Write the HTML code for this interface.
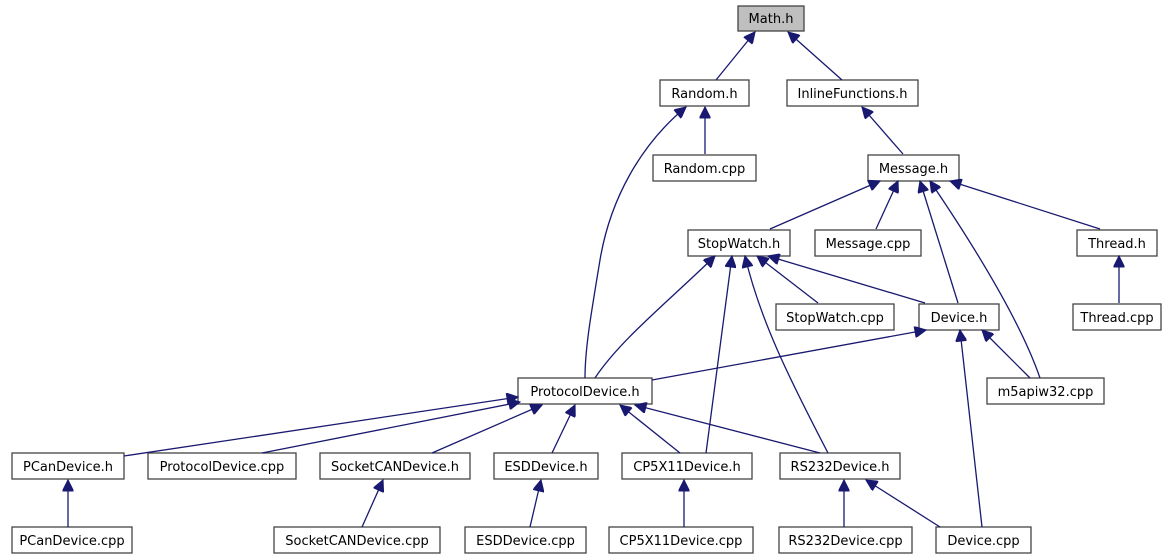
<!DOCTYPE html>
<html><head><meta charset="utf-8"><style>
html,body{margin:0;padding:0;background:#fff;}
svg{display:block}
text{font-family:"DejaVu Sans","Liberation Sans",sans-serif;font-size:13px;fill:#000}
rect{fill:#fff;stroke:#444;stroke-width:1.3}
path{fill:none;stroke:#191970;stroke-width:1.3}
</style></head><body>
<svg width="1175" height="560" viewBox="0 0 1175 560">
<defs>
<marker id="a" viewBox="0 0 10 10" refX="0" refY="5" markerWidth="13" markerHeight="11" markerUnits="userSpaceOnUse" orient="auto">
<path d="M0,5 L10,0 L10,10 z" style="fill:#191970;stroke:#191970;stroke-width:1"/>
</marker>
</defs>
<rect x="738" y="6" width="66" height="25" style="fill:#bfbfbf"/><text x="771" y="23" text-anchor="middle">Math.h</text>
<rect x="660" y="80" width="89" height="26"/><text x="704.5" y="98" text-anchor="middle">Random.h</text>
<rect x="787" y="80" width="131" height="26"/><text x="852.5" y="98" text-anchor="middle">InlineFunctions.h</text>
<rect x="653" y="155" width="103" height="26"/><text x="704.5" y="173" text-anchor="middle">Random.cpp</text>
<rect x="868" y="155" width="91" height="26"/><text x="913.5" y="173" text-anchor="middle">Message.h</text>
<rect x="688" y="230" width="102" height="26"/><text x="739" y="248" text-anchor="middle">StopWatch.h</text>
<rect x="815" y="230" width="106" height="26"/><text x="868" y="248" text-anchor="middle">Message.cpp</text>
<rect x="1077" y="230" width="80" height="26"/><text x="1117" y="248" text-anchor="middle">Thread.h</text>
<rect x="776" y="304" width="118" height="26"/><text x="835" y="322" text-anchor="middle">StopWatch.cpp</text>
<rect x="919" y="304" width="80" height="26"/><text x="959" y="322" text-anchor="middle">Device.h</text>
<rect x="1073" y="304" width="88" height="26"/><text x="1117" y="322" text-anchor="middle">Thread.cpp</text>
<rect x="518" y="378" width="134" height="26"/><text x="585" y="396" text-anchor="middle">ProtocolDevice.h</text>
<rect x="987" y="378" width="117" height="26"/><text x="1045.5" y="396" text-anchor="middle">m5apiw32.cpp</text>
<rect x="12" y="453" width="112" height="26"/><text x="68" y="471" text-anchor="middle">PCanDevice.h</text>
<rect x="148" y="453" width="148" height="26"/><text x="222" y="471" text-anchor="middle">ProtocolDevice.cpp</text>
<rect x="320" y="453" width="150" height="26"/><text x="395" y="471" text-anchor="middle">SocketCANDevice.h</text>
<rect x="494" y="453" width="104" height="26"/><text x="546" y="471" text-anchor="middle">ESDDevice.h</text>
<rect x="622" y="453" width="130" height="26"/><text x="687" y="471" text-anchor="middle">CP5X11Device.h</text>
<rect x="780" y="453" width="120" height="26"/><text x="840" y="471" text-anchor="middle">RS232Device.h</text>
<rect x="12" y="527" width="120" height="26"/><text x="72" y="545" text-anchor="middle">PCanDevice.cpp</text>
<rect x="274" y="527" width="166" height="26"/><text x="357" y="545" text-anchor="middle">SocketCANDevice.cpp</text>
<rect x="465" y="527" width="121" height="26"/><text x="525.5" y="545" text-anchor="middle">ESDDevice.cpp</text>
<rect x="609" y="527" width="144" height="26"/><text x="681" y="545" text-anchor="middle">CP5X11Device.cpp</text>
<rect x="779" y="527" width="133" height="26"/><text x="845.5" y="545" text-anchor="middle">RS232Device.cpp</text>
<rect x="936" y="527" width="95" height="26"/><text x="983.5" y="545" text-anchor="middle">Device.cpp</text>
<g marker-start="url(#a)">
<path d="M755,32 L716,80"/>
<path d="M788,32 L842,80"/>
<path d="M705,107 L705,154"/>
<path d="M686,107 C640,145 610,200 600,260 C590,320 585,350 585,378"/>
<path d="M862,107 L903,154"/>
<path d="M880,181 L770,229"/>
<path d="M898,181 L876,229"/>
<path d="M920,181 L958,303"/>
<path d="M930,181 C970,240 1020,320 1040,378"/>
<path d="M950,181 L1100,229"/>
<path d="M1119,256 L1119,303"/>
<path d="M715,256 C670,300 620,340 595,378"/>
<path d="M732,256 L706,453"/>
<path d="M745,256 C760,320 790,380 828,453"/>
<path d="M757,256 L818,303"/>
<path d="M768,256 L925,303"/>
<path d="M926,330 L652,380"/>
<path d="M982,330 L1030,378"/>
<path d="M960,330 L982,527"/>
<path d="M518,397 L124,456"/>
<path d="M520,402 L262,453"/>
<path d="M542,405 L432,453"/>
<path d="M575,405 L552,453"/>
<path d="M620,405 L680,453"/>
<path d="M635,405 L820,453"/>
<path d="M68,480 L68,527"/>
<path d="M383,480 L362,527"/>
<path d="M541,480 L530,527"/>
<path d="M684,480 L684,527"/>
<path d="M844,480 L844,527"/>
<path d="M866,480 L940,527"/>
</g>
</svg>
</body></html>
